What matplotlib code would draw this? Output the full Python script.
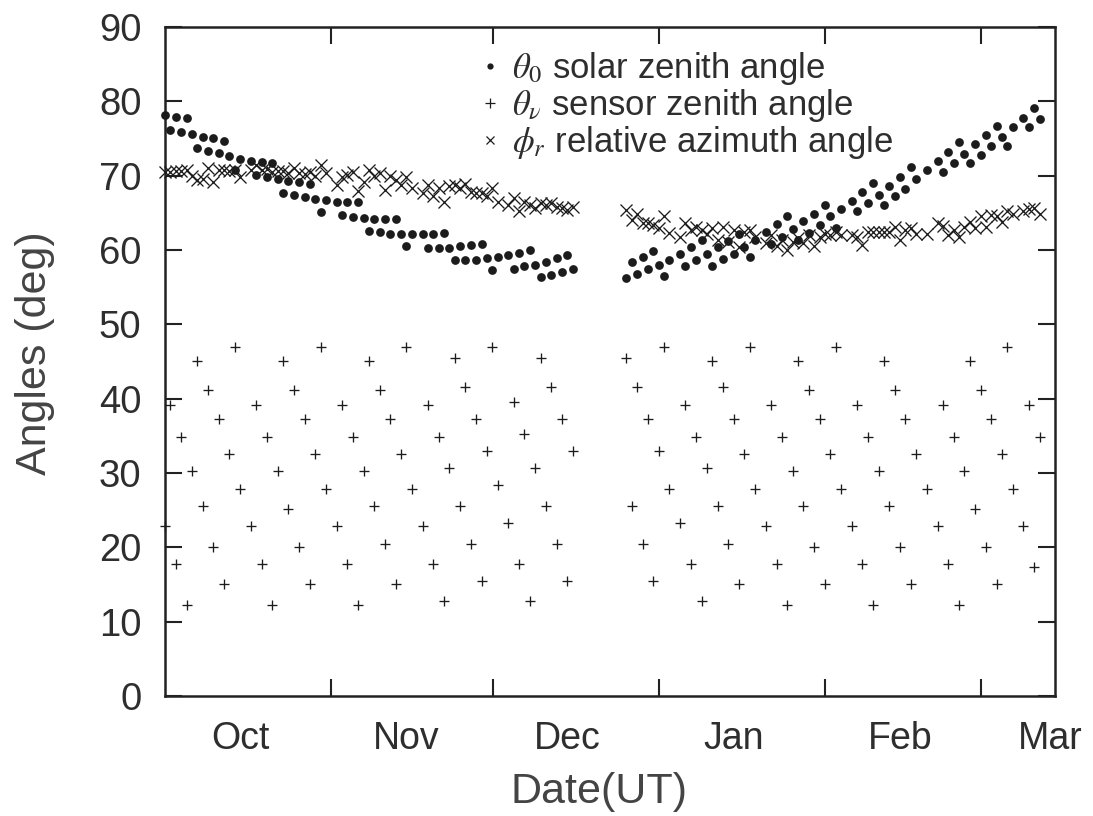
import matplotlib
matplotlib.use('Agg')
import matplotlib.pyplot as plt
from matplotlib.lines import Line2D

plt.rcParams['font.family'] = ['Liberation Sans', 'DejaVu Sans']
plt.rcParams['mathtext.fontset'] = 'stix'

# day offset from 1 October
days = [-14, -13, -12, -11, -10, -9, -8, -7, -6, -5, -4, -3, -2, -1, 0,
        2, 3, 4, 5, 6, 7, 8, 9, 10, 11, 12, 13, 14, 15, 16,
        18, 19, 20, 21, 22, 23, 24, 25, 26, 27, 28, 29, 30, 31, 32,
        34, 35, 36, 37, 38, 39, 40, 41, 42, 43, 44, 45, 46, 47, 48,
        50, 51, 52, 53, 54, 55, 56, 57, 58, 59, 60, 61, 62,
        72, 73, 74, 75, 76, 77, 78, 79, 80,
        82, 83, 84, 85, 86, 87, 88, 89, 90, 91, 92, 93, 94, 95, 96,
        98, 99, 100, 101, 102, 103, 104, 105, 106, 107, 108, 109, 110, 111, 112,
        114, 115, 116, 117, 118, 119, 120, 121, 122, 123, 124, 125, 126,
        128,
        130, 131, 132, 133, 134, 135, 136, 137, 138, 139, 140, 141, 142, 143, 144,
        146, 147, 148, 149]

solar = [78.2, 76.2, 77.9, 75.9, 77.7, 75.6, 73.7, 75.2, 73.3, 75.0, 73.0, 74.7, 72.6, 70.8, 72.3,
         72.0, 70.1, 71.8, 69.8, 71.7, 69.5, 67.7, 69.3, 67.4, 69.1, 67.1, 68.9, 66.9, 65.1, 66.7,
         66.5, 64.7, 66.5, 64.4, 66.4, 64.3, 62.6, 64.2, 62.4, 64.2, 62.2, 64.2, 62.1, 60.5, 62.1,
         62.1, 60.3, 62.2, 60.3, 62.3, 60.3, 58.7, 60.5, 58.7, 60.6, 58.7, 60.8, 58.9, 57.3, 59.1,
         59.3, 57.5, 59.6, 57.8, 60.0, 58.0, 56.4, 58.4, 56.6, 58.9, 57.0, 59.3, 57.4,
         56.2, 58.4, 56.7, 59.1, 57.4, 59.9, 58.0, 56.5, 58.7,
         59.5, 57.9, 60.4, 58.7, 61.3, 59.4, 57.9, 60.4, 58.8, 61.2, 59.5, 62.2, 60.4, 59.0, 61.4,
         62.4, 60.8, 63.5, 61.8, 64.6, 62.8, 61.3, 63.9, 62.3, 64.9, 63.4, 66.0, 64.5, 63.0, 65.5,
         66.6, 65.2, 67.8, 66.3, 69.0, 67.4, 66.0, 68.6, 67.2, 69.8, 68.2, 71.1, 69.5,
         70.7,
         72.0, 70.5, 73.2, 71.7, 74.5, 72.9, 71.7, 74.3, 72.8, 75.5, 74.0, 76.7, 75.2, 74.0, 76.5,
         77.8, 76.5, 79.1, 77.6]

sensor = [22.8, 39.1, 17.7, 34.9, 12.3, 30.2, 45.0, 25.6, 41.1, 20.0, 37.3, 15.0, 32.6, 47.0, 27.8,
          22.8, 39.1, 17.7, 34.9, 12.3, 30.2, 45.0, 25.1, 41.1, 20.0, 37.3, 15.0, 32.6, 47.0, 27.8,
          22.8, 39.1, 17.7, 34.9, 12.3, 30.2, 45.0, 25.6, 41.1, 20.5, 37.3, 15.0, 32.6, 47.0, 27.8,
          22.8, 39.1, 17.7, 34.9, 12.8, 30.7, 45.5, 25.6, 41.6, 20.5, 37.3, 15.5, 33.0, 47.0, 28.4,
          23.3, 39.6, 17.7, 35.3, 12.8, 30.7, 45.5, 25.6, 41.6, 20.5, 37.3, 15.5, 33.0,
          45.5, 25.6, 41.6, 20.5, 37.3, 15.5, 33.0, 47.0, 27.8,
          23.3, 39.1, 17.7, 34.9, 12.8, 30.7, 45.0, 25.6, 41.6, 20.5, 37.3, 15.0, 32.6, 47.0, 27.8,
          22.8, 39.1, 17.7, 34.9, 12.3, 30.2, 45.0, 25.6, 41.1, 20.0, 37.3, 15.0, 32.6, 47.0, 27.8,
          22.8, 39.1, 17.7, 34.9, 12.3, 30.2, 45.0, 25.6, 41.1, 20.0, 37.3, 15.0, 32.6,
          27.8,
          22.8, 39.1, 17.7, 34.9, 12.3, 30.2, 45.0, 25.1, 41.1, 20.0, 37.3, 15.0, 32.6, 47.0, 27.8,
          22.8, 39.1, 17.3, 34.9]

azimuth = [70.5, 70.5, 70.6, 70.6, 70.8, 69.9, 69.4, 69.6, 71.0, 69.2, 70.8, 70.7, 70.6, 70.8, 69.8,
           70.8, 71.4, 70.8, 70.9, 70.5, 70.6, 70.6, 70.3, 71.0, 70.4, 70.2, 70.5, 70.0, 71.4, 70.3,
           68.8, 69.8, 70.1, 70.5, 67.9, 69.1, 70.8, 69.9, 70.3, 68.1, 69.9, 69.4, 68.8, 69.8, 68.3,
           67.7, 68.8, 67.2, 68.3, 66.4, 68.6, 68.7, 68.3, 68.9, 67.8, 67.6, 67.6, 67.2, 68.3, 66.4,
           66.1, 67.0, 65.2, 66.4, 66.1, 65.6, 66.3, 66.1, 66.3, 65.8, 65.6, 65.4, 65.8,
           65.4, 64.0, 64.9, 63.6, 63.6, 63.4, 62.9, 64.6, 62.3,
           61.8, 63.6, 62.7, 63.1, 62.7, 62.2, 62.9, 61.4, 63.1, 61.1, 62.7, 60.4, 62.4, 62.7, 61.8,
           60.9, 62.0, 60.5, 61.3, 60.0, 61.1, 61.6, 60.9, 62.0, 60.5, 61.8, 62.2, 62.0, 62.4, 62.0,
           62.0, 61.8, 60.7, 62.4, 62.4, 62.4, 62.4, 62.4, 63.1, 61.3, 62.7, 62.9, 62.2,
           62.2,
           63.6, 63.2, 62.0, 62.7, 61.8, 63.1, 63.8, 62.9, 64.5, 63.1, 64.7, 64.6, 63.8, 65.2, 64.8,
           65.2, 65.5, 65.6, 64.8]

month_labels = ['Oct', 'Nov', 'Dec', 'Jan', 'Feb', 'Mar']
month_pos = [0, 31, 61, 92, 123, 151]
tick_pos = [17, 47.2, 78.1, 109.1, 138]
y_ticks = [0, 10, 20, 30, 40, 50, 60, 70, 80, 90]

legend_labels = [r'$\theta_{\mathit{0}}$ solar zenith angle',
                 r'$\theta_{\nu}$ sensor zenith angle',
                 r'$\phi_{r}$ relative azimuth angle']

ink = '#1c1c1c'
txt = '#2e2e2e'

fig = plt.figure(figsize=(10.93, 8.16), dpi=100)
ax = fig.add_axes([0.1510, 0.1471, 0.8143, 0.8199])

ax.plot(days, solar, 'o', ms=6.3, color=ink, mec='none', clip_on=False, zorder=3)
ax.plot(days, sensor, '+', ms=7.3, mew=0.95, color=ink, clip_on=False, zorder=3)
ax.plot(days, azimuth, 'x', ms=8.5, mew=0.95, color=ink, clip_on=False, zorder=3)

ax.set_xlim(-14, 151.9)
ax.set_ylim(0, 90)

ax.set_xticks(tick_pos, [''] * len(tick_pos))
ax.set_xticks(month_pos, month_labels, minor=True)
ax.set_yticks(y_ticks, [str(v) for v in y_ticks])

ax.tick_params(which='major', direction='in', length=12, width=1.5,
               top=True, right=True, color='#222222')
ax.tick_params(axis='x', which='minor', length=0, labelsize=27, pad=18, labelcolor=txt)
ax.tick_params(axis='y', which='major', labelsize=27.5, pad=17, labelcolor=txt)
ax.tick_params(axis='y', which='minor', left=False, right=False)

for s in ax.spines.values():
    s.set_linewidth(1.8)
    s.set_color('#222222')

ax.set_xlabel('Date(UT)', fontsize=31, color='#444444')
ax.set_ylabel('Angles (deg)', fontsize=31, color='#444444')
ax.xaxis.set_label_coords(0.4876, -0.114)
ax.yaxis.set_label_coords(-0.124, 0.512)

handles = [Line2D([], [], ls='none', marker='o', ms=4.5, color=ink, mec='none'),
           Line2D([], [], ls='none', marker='+', ms=6.5, mew=0.9, color=ink),
           Line2D([], [], ls='none', marker='x', ms=5.5, mew=0.9, color=ink)]
leg = ax.legend(handles, legend_labels, loc='upper left', bbox_to_anchor=(0.322, 1.002),
                frameon=False, fontsize=25, handlelength=0.8, handletextpad=0.25,
                labelspacing=0.0, borderpad=0.2)
for t in leg.get_texts():
    t.set_color(txt)

fig.savefig('out.png', dpi=100)
